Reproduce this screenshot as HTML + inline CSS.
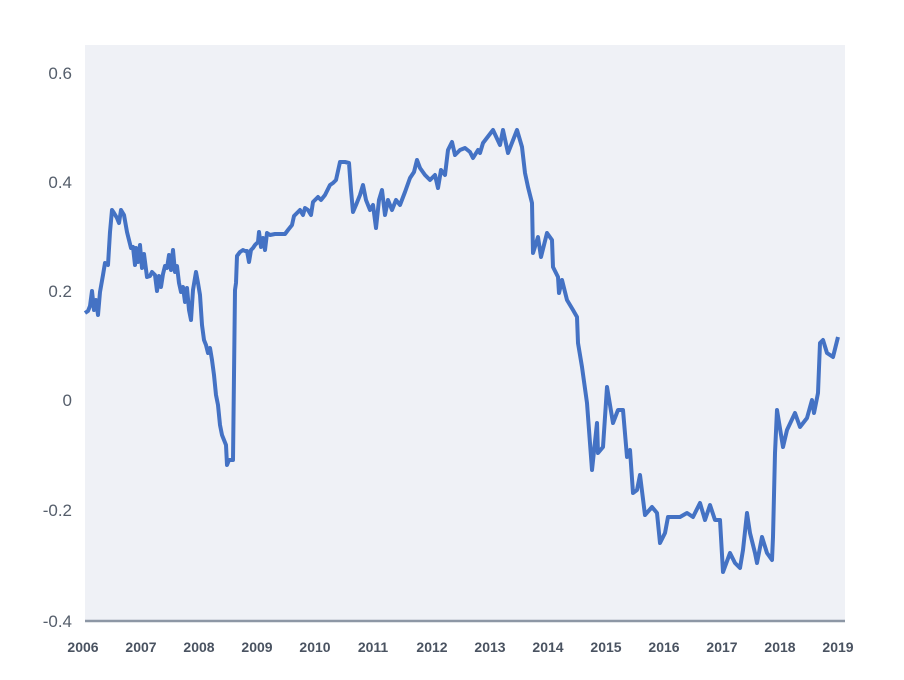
<!DOCTYPE html>
<html><head><style>
html,body{margin:0;padding:0;background:#fff;}
svg{display:block;font-family:"Liberation Sans",sans-serif;}
</style></head><body>
<svg width="904" height="680" viewBox="0 0 904 680">
<rect x="85" y="45" width="760" height="576" fill="#eff1f6"/>
<line x1="85" y1="621" x2="845" y2="621" stroke="#8d97a5" stroke-width="2.5"/>
<g fill="#555e6b" font-size="17" text-anchor="end">
<text x="72" y="79">0.6</text>
<text x="72" y="188">0.4</text>
<text x="72" y="297">0.2</text>
<text x="72" y="406">0</text>
<text x="72" y="516">-0.2</text>
<text x="72" y="627">-0.4</text>
</g>
<g fill="#4a5361" font-size="14" font-weight="bold" text-anchor="middle">
<text x="83" y="652">2006</text><text x="141" y="652">2007</text><text x="199" y="652">2008</text><text x="257" y="652">2009</text><text x="315" y="652">2010</text><text x="373" y="652">2011</text><text x="432" y="652">2012</text><text x="490" y="652">2013</text><text x="548" y="652">2014</text><text x="606" y="652">2015</text><text x="664" y="652">2016</text><text x="722" y="652">2017</text><text x="780" y="652">2018</text><text x="838" y="652">2019</text>
</g>
<polyline fill="none" stroke="#4472c4" stroke-width="4" stroke-linejoin="round" points="
85,313 88,311 90,306 92,291 94,310 96,300 98,315 100,292 103,275 105,263 108,265 110,232 112,210 114,213 117,218 119,223 121,210 124,215 127,232 129,240 131,248 133,247 135,265 136,248 138,262 140,245 142,268 144,254 147,277 150,276 152,272 155,275 157,291 159,276 161,287 163,274 165,266 167,268 169,255 171,270 173,250 175,272 177,266 179,283 181,292 183,287 185,302 187,288 189,310 191,320 193,290 196,272 198,283 200,295 202,325 204,340 206,345 208,353 210,348 212,360 214,375 216,395 218,405 220,425 222,435 224,440 226,445 227,465 229,460 231,460 233,460 235,290 236,283 237,256 240,252 243,250 245,251 247,251 249,262 251,250 253,248 255,245 258,242 259,232 261,247 263,238 265,250 267,233 270,235 275,234 280,234 285,234 288,230 292,225 294,216 298,212 300,210 303,215 305,208 308,210 311,215 313,202 315,200 318,197 321,200 325,195 330,185 333,183 336,180 340,162 345,162 349,163 351,190 353,212 356,205 360,195 363,185 366,200 370,210 373,205 376,228 379,200 382,190 385,215 388,200 392,210 396,200 400,205 405,192 410,178 414,172 417,160 420,168 425,175 430,180 435,175 438,188 441,170 445,175 448,150 452,142 455,155 460,150 465,148 470,152 473,158 478,150 480,153 483,143 493,130 500,145 503,130 508,153 517,130 522,147 525,173 528,187 532,203 533,253 538,237 541,257 547,233 552,240 553,267 558,277 559,293 562,280 567,300 573,310 577,317 578,343 582,367 587,403 592,470 597,423 598,453 603,447 607,387 613,423 618,410 623,410 627,457 630,450 633,493 637,490 640,475 645,515 652,507 657,513 660,543 665,533 668,517 680,517 687,513 693,517 700,503 705,520 710,505 715,520 720,520 723,572 730,553 735,563 740,568 743,550 747,513 750,533 755,553 757,563 762,537 767,553 772,560 773,537 775,453 777,410 783,447 787,430 795,413 800,427 807,418 812,400 814,413 818,393 820,343 823,340 827,353 833,357 838,337"/>
</svg>
</body></html>
